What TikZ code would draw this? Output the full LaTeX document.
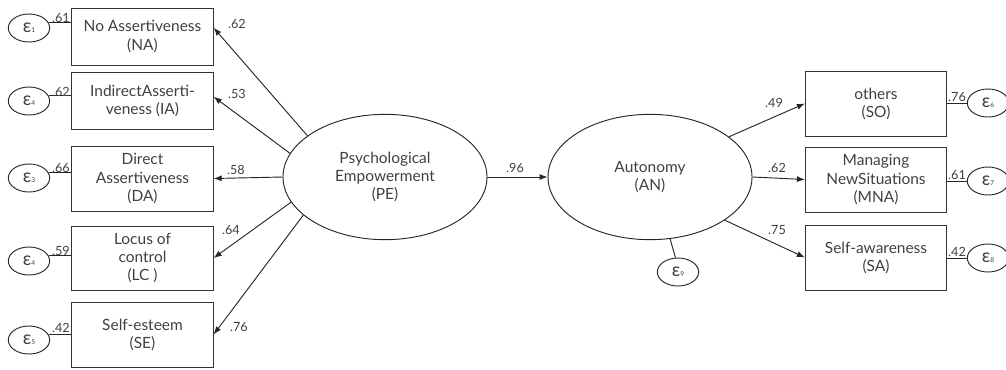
\documentclass[tikz,border=0pt]{standalone}
\usepackage{fontspec}
\setmainfont{Lato}
\usetikzlibrary{shapes.geometric,arrows.meta}

\begin{document}
\begin{tikzpicture}[x=0.75pt,y=-0.75pt,
    every node/.style={text=black!75,font=\fontsize{11.6}{13.6}\selectfont},
    obs/.style={draw=black!80,line width=0.7pt,rectangle,minimum width=106pt,align=center,inner sep=0pt},
    lat/.style={draw=black!85,line width=0.7pt,ellipse,minimum width=153pt,minimum height=94pt,align=center,inner sep=0pt},
    err/.style={draw=black!85,line width=0.7pt,ellipse,minimum width=31pt,minimum height=21pt,inner sep=0pt,font=\fontsize{14}{14}\selectfont},
    coef/.style={inner sep=0pt,font=\fontsize{9.5}{10}\selectfont},
    load/.style={draw=black!85,line width=0.7pt,-{Latex[length=6pt,width=4.5pt]}},
    link/.style={draw=black!85,line width=0.7pt}]
    \useasboundingbox (0,0) rectangle (1006,369);

    % Latent variables
    \node[lat] (pe) at (385,177) {Psychological\\Empowerment\\(PE)};
    \node[lat] (an) at (650,177) {Autonomy\\(AN)};

    % Indicators of PE
    \node[obs,minimum height=42.75pt] (na) at (142.5,36.5) {No Assertiveness\\(NA)};
    \node[obs,minimum height=42.75pt] (ia) at (142.5,100.5) {IndirectAsserti-\\veness (IA)};
    \node[obs,minimum height=48.75pt] (da) at (142.5,178.5) {Direct\\Assertiveness\\(DA)};
    \node[obs,minimum height=48pt] (lc) at (142.5,258) {Locus of\\control\\(LC )};
    \node[obs,minimum height=48.75pt] (se) at (142.5,334.5) {Self-esteem\\(SE)};

    % Indicators of AN
    \node[obs,minimum height=48.75pt] (so) at (876,103.5) {others\\(SO)};
    \node[obs,minimum height=48.75pt] (mna) at (876,179.5) {Managing\\NewSituations\\(MNA)};
    \node[obs,minimum height=48.75pt] (sa) at (876,257.5) {Self-awareness\\(SA)};

    % Error terms
    \node[err] (e1) at (29,28) {ε{\tiny 1}};
    \node[err] (e4a) at (29,101) {ε{\tiny 4}};
    \node[err] (e3) at (29,178) {ε{\tiny 3}};
    \node[err] (e4b) at (29,261) {ε{\tiny 4}};
    \node[err] (e5) at (29,340) {ε{\tiny 5}};
    \node[err] (e6) at (988,103) {ε{\tiny 6}};
    \node[err] (e7) at (988,181) {ε{\tiny 7}};
    \node[err] (e8) at (988,258) {ε{\tiny 8}};
    \node[err] (e9) at (678,272) {ε{\tiny 9}};

    % Loadings
    \draw[load] (pe.152.6) -- (na.7);
    \draw[load] (pe.166.8) -- (ia.3);
    \draw[load] (pe.west) -- (da.east);
    \draw[load] (pe.195.7) -- (lc.east);
    \draw[load] (pe.205) -- (se.east);
    \draw[load] (pe.east) -- (an.west);
    \draw[load] (an.27.7) -- (so.west);
    \draw[load] (an.east) -- (mna.west);
    \draw[load] (an.330.3) -- (sa.west);

    % Error links
    \draw[link] (e1.15) -- (e1.15 -| na.west);
    \draw[link] (e4a.15) -- (e4a.15 -| ia.west);
    \draw[link] (e3.15) -- (e3.15 -| da.west);
    \draw[link] (e4b.15) -- (e4b.15 -| lc.west);
    \draw[link] (e5.15) -- (e5.15 -| se.west);
    \draw[link] (e6.west) -- (e6.west -| so.east);
    \draw[link] (e7.west) -- (e7.west -| mna.east);
    \draw[link] (e8.west) -- (e8.west -| sa.east);
    \draw[link] (an.288) -- (e9.100);

    % Coefficients
    \node[coef] (c1) at (237,24) {.62};
    \node[coef] (c2) at (237,94) {.53};
    \node[coef] (c3) at (236,170) {.58};
    \node[coef] (c4) at (231,230) {.64};
    \node[coef] (c5) at (239,327) {.76};
    \node[coef] (c6) at (515,168) {.96};
    \node[coef] (c7) at (774,103) {.49};
    \node[coef] (c8) at (777,168) {.62};
    \node[coef] (c9) at (777,230) {.75};
    \node[coef] (r1) at (61,18) {.61};
    \node[coef] (r2) at (61,92) {.62};
    \node[coef] (r3) at (61,168) {.66};
    \node[coef] (r4) at (61,251) {.59};
    \node[coef] (r5) at (61,328) {.42};
    \node[coef] (r6) at (957,97) {.76};
    \node[coef] (r7) at (957,175) {.61};
    \node[coef] (r8) at (957,252) {.42};
\end{tikzpicture}
\end{document}
